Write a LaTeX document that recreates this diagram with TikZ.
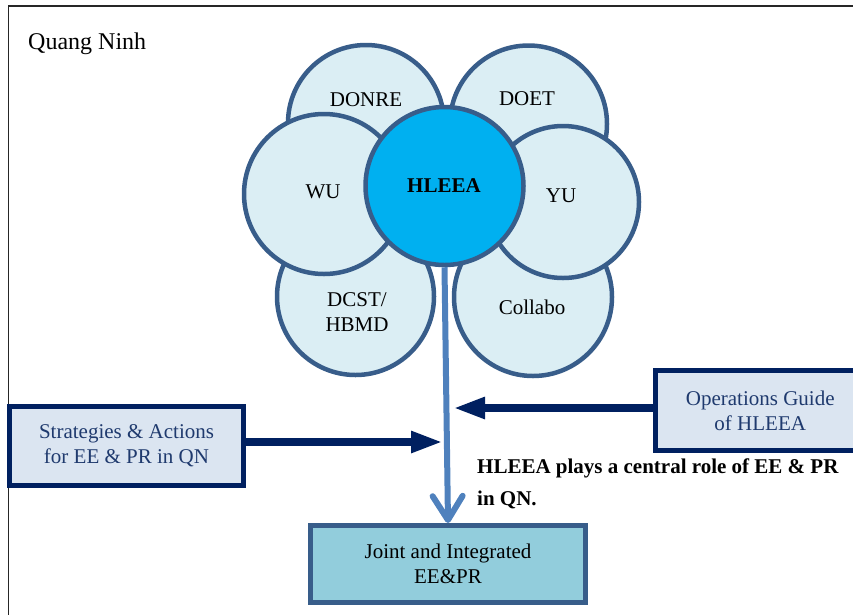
\documentclass[tikz,border=0pt]{standalone}
\usepackage{fontspec}
\setmainfont{Liberation Serif}
\usetikzlibrary{arrows.meta}
\definecolor{petal}{HTML}{DBEEF4}
\definecolor{petalline}{HTML}{385D8A}
\definecolor{core}{HTML}{00B0F0}
\definecolor{stemblue}{HTML}{4F81BD}
\definecolor{navy}{HTML}{002060}
\definecolor{boxfill}{HTML}{DBE5F1}
\definecolor{navytext}{HTML}{1F3A6E}
\definecolor{jointfill}{HTML}{92CDDC}
\begin{document}
\begin{tikzpicture}[x=1pt,y=-1pt,
  petalc/.style={circle, draw=petalline, line width=4.5pt, fill=petal, inner sep=0pt},
  corec/.style={petalc, fill=core},
  lbl/.style={font=\fontsize{21}{25}\selectfont, align=center, inner sep=0pt},
  navybox/.style={draw=navy, line width=5pt, fill=boxfill, text=navytext,
    font=\fontsize{21}{25}\selectfont, align=center, inner sep=0pt},
  jointbox/.style={draw=petalline, line width=5pt, fill=jointfill,
    font=\fontsize{21}{25}\selectfont, align=center, inner sep=0pt},
  navyarrow/.style={draw=navy, line width=8pt, -{Triangle[length=32pt,width=20pt]}},
  stemline/.style={draw=stemblue, line width=6pt, -{Straight Barb[length=24pt,width=30pt,round]}},
  ]
\useasboundingbox (0,0) rectangle (853,614);
\clip (0,0) rectangle (853,614);
\draw[line width=1.5pt, black!85] (8.5,6) rectangle (900,700);

% petals
\node[petalc, minimum size=156pt] (donre) at (366,123) {};
\node[petalc, minimum size=157pt] (doet) at (528.5,124) {};
\node[petalc, minimum size=157pt] (dcst) at (355.5,296.5) {};
\node[petalc, minimum size=158pt] (collabo) at (533,297) {};
\node[petalc, minimum size=160pt] (wu) at (324,194) {};
\node[petalc, minimum size=152pt] (yu) at (563,202) {};
\node[corec, minimum size=158pt] (hleea) at (444.5,186) {};

% labels
\node[lbl] (tdonre) at (366,100) {DONRE};
\node[lbl] (tdoet) at (527,99) {DOET};
\node[lbl] (twu) at (323,192) {WU};
\node[lbl] (tyu) at (561,196) {YU};
\node[lbl, font=\fontsize{21}{25}\selectfont\bfseries] (thleea) at (444,186) {HLEEA};
\node[lbl] (tdcst) at (357,312) {DCST/\\HBMD};
\node[lbl] (tcollabo) at (532,307) {Collabo};

\node[lbl, anchor=west, font=\fontsize{24}{28}\selectfont] (qn) at (28,44) {Quang Ninh};

% boxes
\node[navybox, minimum width=234pt, minimum height=79pt] (strat) at (126.5,446) {Strategies \& Actions\\for EE \& PR in QN};
\node[navybox, minimum width=209.5pt, minimum height=80pt] (ops) at (760.25,410.5) {Operations Guide\\of HLEEA};
\node[jointbox, minimum width=275pt, minimum height=77pt] (joint) at (448,564) {Joint and Integrated\\EE\&PR};

% arrows
\coordinate (tipS) at (443,442);
\coordinate (tipO) at (453,408);
\draw[navyarrow] ([yshift=4pt]strat.east) -- (tipS);
\draw[navyarrow] ([yshift=2.5pt]ops.west) -- (tipO);
\draw[stemline] (hleea.south) -- (joint.north);

\node[anchor=west, align=left, inner sep=0pt, font=\fontsize{21}{32}\selectfont\bfseries] (role) at (477,484)
  {HLEEA plays a central role of EE \& PR\\in QN.};
\end{tikzpicture}
\end{document}
